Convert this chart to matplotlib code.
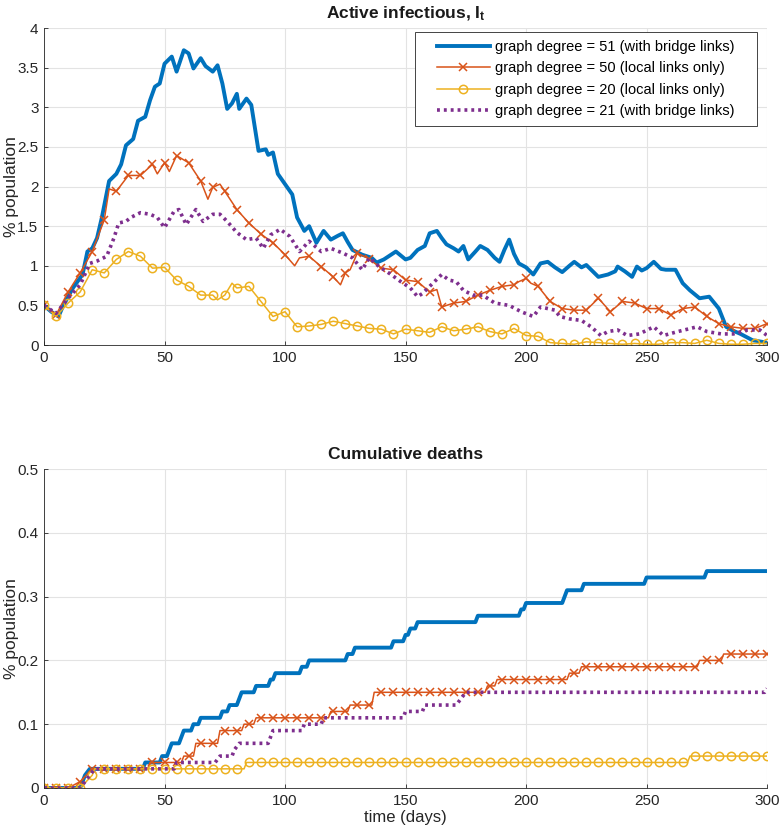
"""Active infectious / cumulative deaths for four contact-graph variants."""

import matplotlib
matplotlib.use('Agg')
import matplotlib.pyplot as plt
from matplotlib.patches import Rectangle
from matplotlib.transforms import IdentityTransform
import numpy as np

plt.rcParams.update({
    'font.family':        'Liberation Sans',
    'font.size':          11,
    'mathtext.fontset':   'custom',
    'mathtext.rm':        'Liberation Sans',
    'mathtext.bf':        'Liberation Sans:bold',
    'axes.edgecolor':     '#262626',
    'axes.linewidth':     0.6,
    'xtick.color':        '#262626',
    'ytick.color':        '#262626',
    'xtick.direction':    'in',
    'ytick.direction':    'in',
    'xtick.major.size':   3,
    'ytick.major.size':   3,
    'xtick.major.width':  0.6,
    'ytick.major.width':  0.6,
})

BLUE   = '#0072BD'
ORANGE = '#D95319'
YELLOW = '#EDB120'
PURPLE = '#7E2F8E'

LABELS = ['graph degree = 51 (with bridge links)',
          'graph degree = 50 (local links only)',
          'graph degree = 20 (local links only)',
          'graph degree = 21 (with bridge links)']

# ---- active infectious (% population) -------------------------------------
blue_I_days = [0, 3, 6, 8, 12, 16, 18, 20, 22, 24, 27, 30, 32, 34, 37, 39, 42,
               44, 46, 48, 50, 53, 55, 58, 60, 62, 65, 67, 70, 72, 74, 76, 78,
               80, 81, 84, 86, 89, 92, 93, 95, 97, 100, 103, 105, 108, 110,
               113, 116, 119, 122, 124, 126, 128, 132, 136, 138, 141, 146,
               150, 152, 155, 158, 160, 163, 165, 167, 170, 172, 174, 176,
               179, 181, 184, 187, 189, 191, 193, 195, 197, 200, 203, 206,
               209, 212, 215, 218, 220, 223, 225, 228, 230, 234, 237, 238,
               241, 244, 246, 248, 250, 253, 256, 258, 262, 265, 268, 270,
               272, 276, 280, 283, 286, 289, 294, 300]
blue_I = [0.50, 0.42, 0.36, 0.50, 0.72, 0.89, 1.18, 1.22, 1.35, 1.61, 2.07,
          2.16, 2.28, 2.52, 2.60, 2.83, 2.88, 3.09, 3.26, 3.30, 3.55, 3.64,
          3.45, 3.72, 3.68, 3.49, 3.62, 3.52, 3.45, 3.53, 3.30, 2.98, 3.05,
          3.17, 2.98, 3.11, 3.03, 2.45, 2.47, 2.40, 2.43, 2.16, 2.03, 1.90,
          1.61, 1.44, 1.50, 1.29, 1.44, 1.33, 1.38, 1.41, 1.30, 1.20, 1.14,
          1.10, 1.04, 1.08, 1.18, 1.08, 1.10, 1.20, 1.25, 1.41, 1.44, 1.35,
          1.27, 1.22, 1.18, 1.25, 1.08, 1.18, 1.25, 1.20, 1.10, 1.05, 1.20,
          1.33, 1.15, 1.03, 0.98, 0.89, 1.03, 1.05, 0.98, 0.92, 1.00, 1.05,
          0.98, 1.01, 0.92, 0.86, 0.89, 0.93, 0.99, 0.93, 0.86, 0.99, 0.94,
          0.97, 1.05, 0.96, 0.95, 0.95, 0.78, 0.69, 0.64, 0.59, 0.61, 0.46,
          0.23, 0.18, 0.14, 0.06, 0.03]

orange_I_days = [0, 5, 10, 15, 20, 25, 27, 30, 35, 40, 45, 47, 50, 52, 55, 60,
                 65, 68, 70, 73, 75, 80, 85, 90, 95, 100, 104, 106, 110, 115,
                 120, 123, 125, 127, 130, 134, 135, 140, 145, 150, 155, 160,
                 163, 165, 170, 175, 180, 185, 190, 195, 197, 200, 202, 205,
                 210, 215, 220, 225, 230, 235, 240, 245, 250, 255, 260, 265,
                 270, 275, 280, 285, 290, 295, 300]
orange_I = [0.50, 0.38, 0.67, 0.91, 1.18, 1.58, 1.97, 1.94, 2.14, 2.14, 2.28,
            2.16, 2.30, 2.19, 2.39, 2.30, 2.07, 1.84, 1.99, 2.03, 1.94, 1.71,
            1.54, 1.40, 1.29, 1.14, 1.00, 1.10, 1.12, 0.99, 0.86, 0.76, 0.91,
            0.95, 1.16, 1.10, 1.08, 0.97, 0.95, 0.82, 0.80, 0.67, 0.70, 0.48,
            0.53, 0.55, 0.63, 0.69, 0.74, 0.76, 0.80, 0.84, 0.78, 0.74, 0.55,
            0.46, 0.44, 0.44, 0.59, 0.42, 0.55, 0.53, 0.46, 0.46, 0.38, 0.46,
            0.48, 0.36, 0.27, 0.23, 0.21, 0.21, 0.27]

yellow_I_days = [0, 5, 10, 15, 20, 25, 30, 35, 40, 45, 50, 55, 60, 65, 70, 72,
                 75, 78, 80, 85, 90, 95, 100, 105, 110, 115, 120, 125, 130,
                 135, 140, 145, 150, 155, 160, 165, 170, 175, 180, 185, 190,
                 195, 200, 205, 210, 215, 220, 225, 230, 235, 240, 245, 250,
                 255, 260, 265, 270, 275, 280, 285, 290, 295, 300]
yellow_I = [0.50, 0.36, 0.53, 0.67, 0.95, 0.91, 1.08, 1.18, 1.12, 0.97, 0.98,
            0.82, 0.74, 0.63, 0.63, 0.57, 0.63, 0.78, 0.72, 0.74, 0.55, 0.36,
            0.42, 0.23, 0.24, 0.26, 0.30, 0.27, 0.24, 0.21, 0.20, 0.14, 0.20,
            0.18, 0.16, 0.23, 0.18, 0.20, 0.23, 0.17, 0.14, 0.21, 0.12, 0.11,
            0.03, 0.02, 0.01, 0.04, 0.03, 0.02, 0.01, 0.02, 0.01, 0.01, 0.03,
            0.03, 0.02, 0.06, 0.02, 0.01, 0.01, 0.02, 0.02]

purple_I_days = [0, 5, 10, 15, 19, 22, 26, 29, 31, 34, 36, 40, 44, 47, 50, 54,
                 56, 59, 63, 66, 70, 73, 76, 80, 84, 88, 91, 94, 98, 102, 106,
                 110, 115, 119, 124, 128, 132, 135, 139, 144, 148, 152, 155,
                 157, 162, 165, 168, 171, 174, 178, 182, 187, 193, 198, 203,
                 206, 212, 214, 218, 223, 227, 231, 234, 238, 242, 247, 253,
                 257, 263, 271, 275, 281, 286, 292, 297, 300]
purple_I = [0.50, 0.40, 0.59, 0.76, 1.03, 1.06, 1.12, 1.35, 1.54, 1.56, 1.61,
            1.67, 1.65, 1.61, 1.48, 1.69, 1.71, 1.52, 1.71, 1.56, 1.65, 1.65,
            1.56, 1.42, 1.33, 1.35, 1.22, 1.39, 1.46, 1.37, 1.18, 1.31, 1.18,
            1.22, 1.16, 1.10, 0.95, 1.10, 0.99, 0.89, 0.80, 0.72, 0.61, 0.65,
            0.80, 0.89, 0.82, 0.80, 0.69, 0.63, 0.63, 0.53, 0.50, 0.42, 0.36,
            0.48, 0.44, 0.36, 0.33, 0.31, 0.23, 0.12, 0.17, 0.19, 0.12, 0.14,
            0.23, 0.12, 0.17, 0.23, 0.17, 0.14, 0.14, 0.19, 0.19, 0.12]

# ---- cumulative deaths (% population) -------------------------------------
blue_D_days = [0, 15, 16, 17, 19, 41, 42, 48, 49, 51, 52, 53, 56, 57, 58, 61,
               62, 64, 65, 73, 74, 76, 77, 80, 81, 82, 87, 88, 93, 94, 95, 96,
               106, 107, 109, 110, 125, 126, 128, 129, 144, 145, 149, 150, 151,
               152, 154, 155, 179, 180, 197, 198, 199, 200, 215, 216, 217, 223,
               224, 249, 250, 274, 275, 300]
blue_D = [0, 0, 0.01, 0.02, 0.03, 0.03, 0.04, 0.04, 0.05, 0.05, 0.06, 0.07,
          0.07, 0.08, 0.09, 0.09, 0.10, 0.10, 0.11, 0.11, 0.12, 0.12, 0.13,
          0.13, 0.14, 0.15, 0.15, 0.16, 0.16, 0.17, 0.17, 0.18, 0.18, 0.19,
          0.19, 0.20, 0.20, 0.21, 0.21, 0.22, 0.22, 0.23, 0.23, 0.24, 0.24,
          0.25, 0.25, 0.26, 0.26, 0.27, 0.27, 0.28, 0.28, 0.29, 0.29, 0.30,
          0.31, 0.31, 0.32, 0.32, 0.33, 0.33, 0.34, 0.34]

orange_D_days = [0, 5, 10, 15, 20, 25, 30, 35, 40, 43, 44, 45, 50, 55, 57, 58,
                 60, 62, 63, 65, 70, 72, 73, 75, 80, 82, 83, 85, 87, 88, 90,
                 95, 100, 105, 110, 115, 118, 119, 120, 125, 126, 127, 130,
                 135, 136, 137, 140, 145, 150, 155, 160, 165, 170, 175, 180,
                 183, 184, 185, 187, 188, 190, 195, 200, 205, 210, 215, 217,
                 218, 220, 222, 223, 225, 230, 235, 240, 245, 250, 255, 260,
                 265, 270, 271, 272, 275, 280, 281, 282, 285, 290, 295, 300]
orange_D = [0, 0, 0, 0.01, 0.03, 0.03, 0.03, 0.03, 0.03, 0.03, 0.04, 0.04,
            0.04, 0.04, 0.04, 0.05, 0.05, 0.05, 0.07, 0.07, 0.07, 0.07, 0.09,
            0.09, 0.09, 0.09, 0.10, 0.10, 0.10, 0.11, 0.11, 0.11, 0.11, 0.11,
            0.11, 0.11, 0.11, 0.12, 0.12, 0.12, 0.12, 0.13, 0.13, 0.13, 0.13,
            0.15, 0.15, 0.15, 0.15, 0.15, 0.15, 0.15, 0.15, 0.15, 0.15, 0.15,
            0.16, 0.16, 0.16, 0.17, 0.17, 0.17, 0.17, 0.17, 0.17, 0.17, 0.17,
            0.18, 0.18, 0.18, 0.19, 0.19, 0.19, 0.19, 0.19, 0.19, 0.19, 0.19,
            0.19, 0.19, 0.19, 0.19, 0.20, 0.20, 0.20, 0.20, 0.21, 0.21, 0.21,
            0.21, 0.21]

yellow_D_days = [0, 5, 10, 15, 20, 21, 25, 30, 35, 40, 45, 50, 55, 60, 65, 70,
                 75, 80, 83, 84, 85, 90, 95, 100, 105, 110, 115, 120, 125, 130,
                 135, 140, 145, 150, 155, 160, 165, 170, 175, 180, 185, 190,
                 195, 200, 205, 210, 215, 220, 225, 230, 235, 240, 245, 250,
                 255, 260, 265, 267, 268, 270, 275, 280, 285, 290, 295, 300]
yellow_D = [0, 0, 0, 0, 0.02, 0.03, 0.03, 0.03, 0.03, 0.03, 0.03, 0.03, 0.03,
            0.03, 0.03, 0.03, 0.03, 0.03, 0.03, 0.04, 0.04, 0.04, 0.04, 0.04,
            0.04, 0.04, 0.04, 0.04, 0.04, 0.04, 0.04, 0.04, 0.04, 0.04, 0.04,
            0.04, 0.04, 0.04, 0.04, 0.04, 0.04, 0.04, 0.04, 0.04, 0.04, 0.04,
            0.04, 0.04, 0.04, 0.04, 0.04, 0.04, 0.04, 0.04, 0.04, 0.04, 0.04,
            0.04, 0.05, 0.05, 0.05, 0.05, 0.05, 0.05, 0.05, 0.05]

purple_D_days = [0, 15, 17, 19, 21, 54, 55, 71, 73, 78, 79, 81, 93, 95, 107,
                 108, 115, 116, 149, 150, 157, 158, 171, 173, 175, 299, 300]
purple_D = [0, 0, 0.01, 0.02, 0.03, 0.03, 0.04, 0.04, 0.05, 0.05, 0.06, 0.07,
            0.07, 0.09, 0.09, 0.10, 0.10, 0.11, 0.11, 0.12, 0.12, 0.13, 0.13,
            0.14, 0.15, 0.15, 0.156]


def every5(days):
    # markers sit on the 5-day samples only
    return [d % 5 == 0 for d in days]


def draw(ax, series):
    (bd, bv), (od, ov), (yd, yv), (pd_, pv) = series
    ax.plot(bd, bv, color=BLUE, lw=2.8, label=LABELS[0],
            solid_joinstyle='round')
    ax.plot(od, ov, color=ORANGE, lw=1.1, marker='x', ms=6, mew=1.1,
            markevery=every5(od), label=LABELS[1])
    ax.plot(yd, yv, color=YELLOW, lw=1.1, marker='o', ms=6, mew=1.1,
            mfc='none', markevery=every5(yd), label=LABELS[2])
    ax.plot(pd_, pv, color=PURPLE, lw=2.6, ls=(0, (0.8, 1.1)),
            dash_capstyle='butt', label=LABELS[3])


def style(ax):
    ax.grid(True, color='#e3e3e3', lw=0.8)
    ax.set_axisbelow(True)
    for s in ('top', 'right'):
        ax.spines[s].set_visible(False)
    ax.set_xlim(0, 300)
    ax.set_xticks(np.arange(0, 301, 50))
    ax.set_ylabel('% population', color='#262626', fontsize=12.5)
    ax.yaxis.set_label_coords(-0.035, 0.5)
    ax.tick_params(labelsize=11, pad=4)


W, H = 782, 835
fig = plt.figure(figsize=(W / 100, H / 100), dpi=100)
ax1 = fig.add_axes([0.0563, 0.5868, 0.9246, 0.3796])
ax2 = fig.add_axes([0.0563, 0.0563, 0.9246, 0.3820])

draw(ax1, [(blue_I_days, blue_I), (orange_I_days, orange_I),
           (yellow_I_days, yellow_I), (purple_I_days, purple_I)])
style(ax1)
ax1.set_ylim(0, 4)
ax1.set_yticks(np.arange(0, 4.01, 0.5))
ax1.set_yticklabels(['0', '0.5', '1', '1.5', '2', '2.5', '3', '3.5', '4'])
ax1.set_title(r'Active infectious, $\mathbf{I_t}$', fontweight='bold',
              fontsize=12.5, color='#1a1a1a', pad=7)

# MATLAB-style legend: wider side padding than matplotlib allows, so the
# frame is drawn as a separate patch around the frameless legend box
HPAD = 14  # px
leg = ax1.legend(loc='upper right',
                 bbox_to_anchor=(0.986 - HPAD / (0.9246 * W), 0.987),
                 borderaxespad=0, handlelength=3.6, frameon=False,
                 fontsize=10.5, labelspacing=0.5, borderpad=0.55,
                 handletextpad=0.4)
leg.set_zorder(6)
fig.canvas.draw()
bb = leg.get_window_extent()
ax1.add_patch(Rectangle((bb.x0 - HPAD, bb.y0), bb.width + 2 * HPAD,
                        bb.height, transform=IdentityTransform(),
                        facecolor='white', edgecolor='#262626', lw=0.6,
                        zorder=5, clip_on=False))

draw(ax2, [(blue_D_days, blue_D), (orange_D_days, orange_D),
           (yellow_D_days, yellow_D), (purple_D_days, purple_D)])
style(ax2)
ax2.set_ylim(0, 0.5)
ax2.set_yticks(np.arange(0, 0.51, 0.1))
ax2.set_yticklabels(['0', '0.1', '0.2', '0.3', '0.4', '0.5'])
ax2.set_title('Cumulative deaths', fontweight='bold', fontsize=12.5,
              color='#1a1a1a', pad=7)
ax2.set_xlabel('time (days)', color='#262626', fontsize=12, labelpad=2)

fig.savefig('out.png', dpi=100)
